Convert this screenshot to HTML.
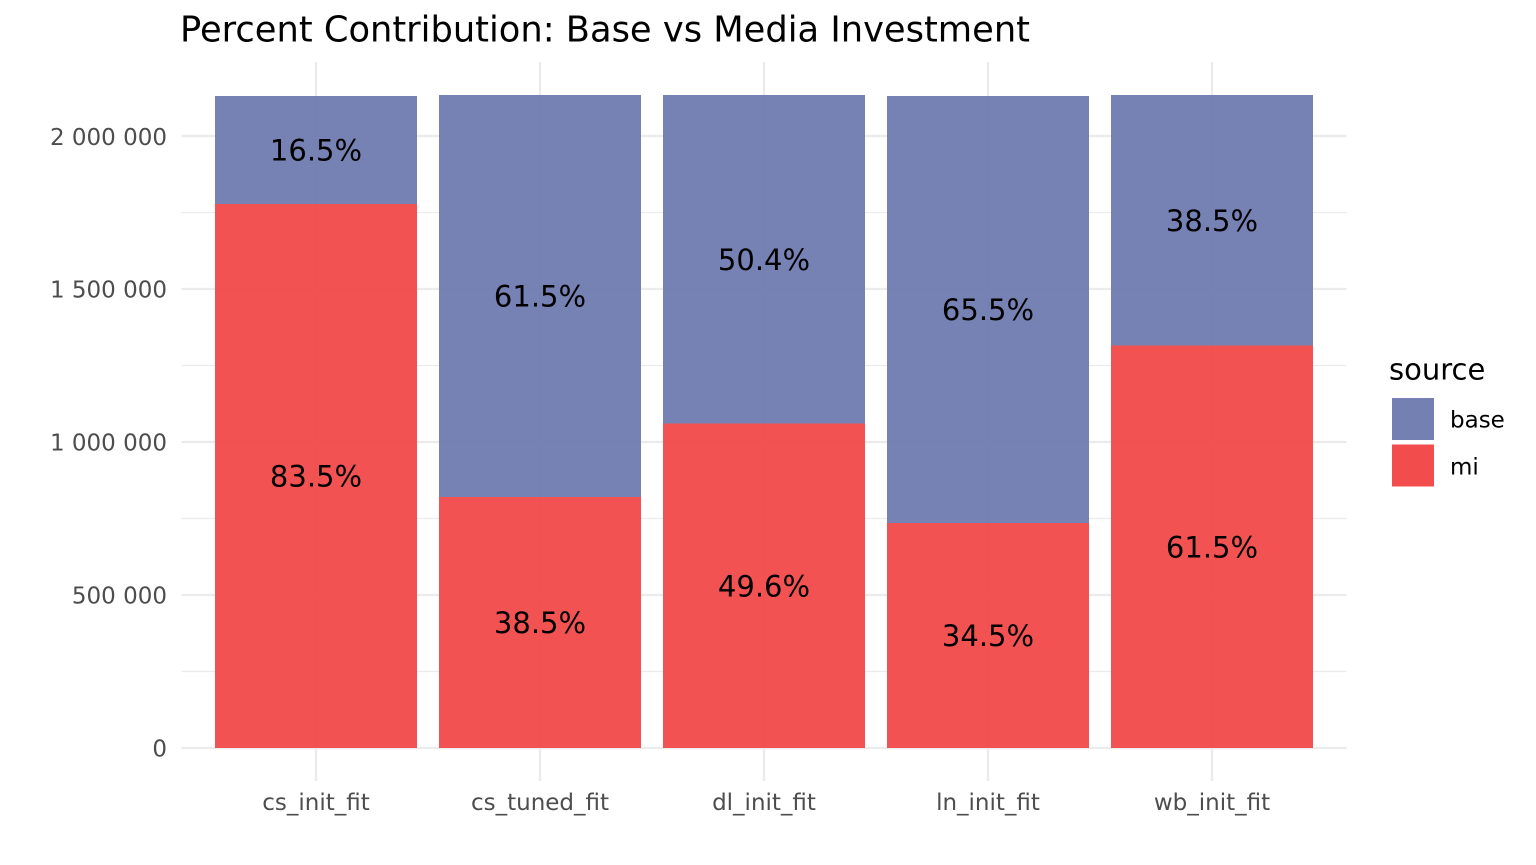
<!DOCTYPE html>
<html>
<head>
<meta charset="utf-8">
<style>
html,body{margin:0;padding:0;background:#fff;}
svg{display:block;}
text{font-family:"DejaVu Sans","Liberation Sans",sans-serif;}
</style>
</head>
<body>
<svg width="1536" height="865" viewBox="0 0 1536 865" xmlns="http://www.w3.org/2000/svg">
<rect width="1536" height="865" fill="#fff"/>
<!-- minor grid -->
<g stroke="#ebebeb" stroke-width="1.2">
<line x1="181.6" x2="1346.4" y1="671.5" y2="671.5"/>
<line x1="181.6" x2="1346.4" y1="518.5" y2="518.5"/>
<line x1="181.6" x2="1346.4" y1="365.5" y2="365.5"/>
<line x1="181.6" x2="1346.4" y1="212.5" y2="212.5"/>
</g>
<!-- major grid -->
<g stroke="#ebebeb" stroke-width="2.3">
<line x1="181.6" x2="1346.4" y1="748" y2="748"/>
<line x1="181.6" x2="1346.4" y1="595" y2="595"/>
<line x1="181.6" x2="1346.4" y1="442" y2="442"/>
<line x1="181.6" x2="1346.4" y1="289" y2="289"/>
<line x1="181.6" x2="1346.4" y1="136" y2="136"/>
<line x1="316" x2="316" y1="62" y2="781"/>
<line x1="540" x2="540" y1="62" y2="781"/>
<line x1="764" x2="764" y1="62" y2="781"/>
<line x1="988" x2="988" y1="62" y2="781"/>
<line x1="1212" x2="1212" y1="62" y2="781"/>
</g>
<!-- bars -->
<g fill-opacity="0.92">
<rect x="215" y="96" width="202" height="108" fill="#6a76ae"/>
<rect x="215" y="204" width="202" height="544" fill="#f24343"/>
<rect x="439" y="95" width="202" height="402" fill="#6a76ae"/>
<rect x="439" y="497" width="202" height="251" fill="#f24343"/>
<rect x="663" y="95" width="202" height="328.5" fill="#6a76ae"/>
<rect x="663" y="423.5" width="202" height="324.5" fill="#f24343"/>
<rect x="887" y="96" width="202" height="427" fill="#6a76ae"/>
<rect x="887" y="523" width="202" height="225" fill="#f24343"/>
<rect x="1111" y="95" width="202" height="250.5" fill="#6a76ae"/>
<rect x="1111" y="345.5" width="202" height="402.5" fill="#f24343"/>
</g>
<!-- bar labels -->
<g font-size="29" fill="#000" text-anchor="middle">
<text x="316" y="160.6">16.5%</text>
<text x="316" y="486.6">83.5%</text>
<text x="540" y="306.6">61.5%</text>
<text x="540" y="633.1">38.5%</text>
<text x="764" y="269.8">50.4%</text>
<text x="764" y="596.3">49.6%</text>
<text x="988" y="320.1">65.5%</text>
<text x="988" y="646.1">34.5%</text>
<text x="1212" y="230.8">38.5%</text>
<text x="1212" y="557.3">61.5%</text>
</g>
<!-- y axis labels -->
<g font-size="23" fill="#4d4d4d" text-anchor="end">
<text x="167" y="756.4">0</text>
<text x="167" y="603.4">500 000</text>
<text x="167" y="450.4">1 000 000</text>
<text x="167" y="297.4">1 500 000</text>
<text x="167" y="144.8">2 000 000</text>
</g>
<!-- x axis labels -->
<g font-size="23" fill="#4d4d4d" text-anchor="middle">
<text x="316" y="810">cs_init_fit</text>
<text x="540" y="810">cs_tuned_fit</text>
<text x="764" y="810">dl_init_fit</text>
<text x="988" y="810">ln_init_fit</text>
<text x="1212" y="810">wb_init_fit</text>
</g>
<!-- title -->
<text x="180" y="41.5" font-size="35.25" fill="#000">Percent Contribution: Base vs Media Investment</text>
<!-- legend -->
<text x="1389" y="379.3" font-size="29" fill="#000">source</text>
<rect x="1392" y="398" width="42" height="42" fill="#7580b2"/>
<rect x="1392" y="444.5" width="42" height="42" fill="#f24c4c"/>
<text x="1450" y="427.7" font-size="23" fill="#000">base</text>
<text x="1450" y="474.3" font-size="23" fill="#000">mi</text>
</svg>
</body>
</html>
